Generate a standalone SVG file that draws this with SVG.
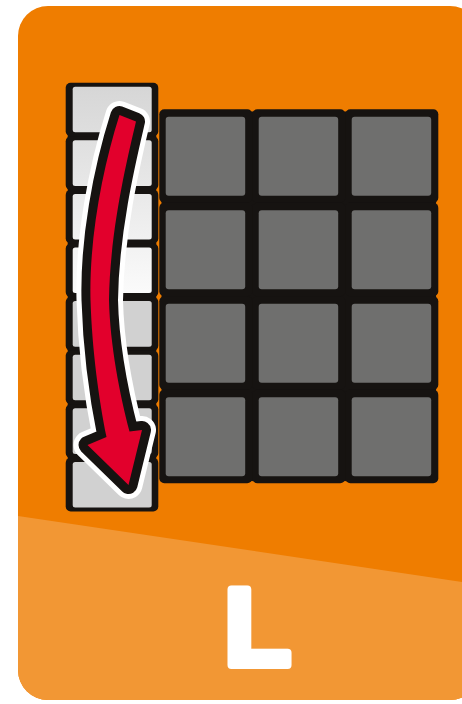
<svg xmlns="http://www.w3.org/2000/svg" xmlns:xlink="http://www.w3.org/1999/xlink" width="462" height="704" viewBox="0 0 462 704">
<style>
.cell{fill:#161311}
.dark{fill:#6f6f6e}
.lite{fill:#d1d1d1}
.grad{fill:url(#g)}
.label{font-family:"Liberation Sans",Arial,sans-serif;font-weight:bold;font-size:109px;fill:#fff;stroke:#fff;stroke-width:8;stroke-linejoin:round}
</style>
<defs>
<clipPath id="card"><rect x="18" y="6" width="462" height="694" rx="30"/></clipPath>
<linearGradient id="g" gradientUnits="userSpaceOnUse" x1="0" y1="86" x2="0" y2="296">
<stop offset="0" stop-color="#d6d6d6"/>
<stop offset="1" stop-color="#fbfbfb"/>
</linearGradient>
<path id="arrowShape" d="M119.5,115 L136,121.5 C127,160 110,230 109,300 C110,345 120,395 129.5,431.5 L142,430 L128.5,485 L87.5,445 L106.5,437 C99,400 92,350 90.5,300 C89,240 102,170 119.5,115 Z"/>
</defs>
<g id="background" clip-path="url(#card)">
<rect x="18" y="6" width="462" height="694" fill="#ef7d00"/>
<polygon points="18,516 480,584.6 480,700 18,700" fill="#f29734"/>
</g>
<g id="grid">
<rect class="cell" x="161.5" y="111.5" width="274.6" height="369.6"/>
<g id="r0c0"><rect class="cell" x="159.3" y="109.3" width="93" height="93.5" rx="5"/><rect class="dark" x="165.7" y="116.7" width="79.5" height="79" rx="3"/></g>
<g id="r0c1"><rect class="cell" x="252.3" y="109.3" width="93" height="93.5" rx="5"/><rect class="dark" x="258.7" y="116.7" width="79.5" height="79" rx="3"/></g>
<g id="r0c2"><rect class="cell" x="345.3" y="109.3" width="93" height="93.5" rx="5"/><rect class="dark" x="351.7" y="116.7" width="79.5" height="79" rx="3"/></g>
<g id="r1c0"><rect class="cell" x="159.3" y="202.8" width="93" height="93.5" rx="5"/><rect class="dark" x="165.7" y="210.2" width="79.5" height="79" rx="3"/></g>
<g id="r1c1"><rect class="cell" x="252.3" y="202.8" width="93" height="93.5" rx="5"/><rect class="dark" x="258.7" y="210.2" width="79.5" height="79" rx="3"/></g>
<g id="r1c2"><rect class="cell" x="345.3" y="202.8" width="93" height="93.5" rx="5"/><rect class="dark" x="351.7" y="210.2" width="79.5" height="79" rx="3"/></g>
<g id="r2c0"><rect class="cell" x="159.3" y="296.3" width="93" height="93.5" rx="5"/><rect class="dark" x="165.7" y="303.7" width="79.5" height="79" rx="3"/></g>
<g id="r2c1"><rect class="cell" x="252.3" y="296.3" width="93" height="93.5" rx="5"/><rect class="dark" x="258.7" y="303.7" width="79.5" height="79" rx="3"/></g>
<g id="r2c2"><rect class="cell" x="345.3" y="296.3" width="93" height="93.5" rx="5"/><rect class="dark" x="351.7" y="303.7" width="79.5" height="79" rx="3"/></g>
<g id="r3c0"><rect class="cell" x="159.3" y="389.8" width="93" height="93.5" rx="5"/><rect class="dark" x="165.7" y="397.2" width="79.5" height="79" rx="3"/></g>
<g id="r3c1"><rect class="cell" x="252.3" y="389.8" width="93" height="93.5" rx="5"/><rect class="dark" x="258.7" y="397.2" width="79.5" height="79" rx="3"/></g>
<g id="r3c2"><rect class="cell" x="345.3" y="389.8" width="93" height="93.5" rx="5"/><rect class="dark" x="351.7" y="397.2" width="79.5" height="79" rx="3"/></g>
</g>
<g id="column">
<rect class="cell" x="67.7" y="84.7" width="88.6" height="424.8"/>
<g id="s0"><rect class="cell" x="65.7" y="82.7" width="92.6" height="53.6" rx="5"/><rect class="grad" x="72.7" y="86.7" width="79" height="45.6" rx="2.5"/></g>
<g id="s1"><rect class="cell" x="65.7" y="136.3" width="92.6" height="53.6" rx="5"/><rect class="grad" x="72.7" y="140.3" width="79" height="45.6" rx="2.5"/></g>
<g id="s2"><rect class="cell" x="65.7" y="189.9" width="92.6" height="53.6" rx="5"/><rect class="grad" x="72.7" y="193.9" width="79" height="45.6" rx="2.5"/></g>
<g id="s3"><rect class="cell" x="65.7" y="243.5" width="92.6" height="53.6" rx="5"/><rect class="grad" x="72.7" y="247.5" width="79" height="45.6" rx="2.5"/></g>
<g id="s4"><rect class="cell" x="65.7" y="297.1" width="92.6" height="53.6" rx="5"/><rect class="lite" x="72.7" y="301.1" width="79" height="45.6" rx="2.5"/></g>
<g id="s5"><rect class="cell" x="65.7" y="350.7" width="92.6" height="53.6" rx="5"/><rect class="lite" x="72.7" y="354.7" width="79" height="45.6" rx="2.5"/></g>
<g id="s6"><rect class="cell" x="65.7" y="404.3" width="92.6" height="53.6" rx="5"/><rect class="lite" x="72.7" y="408.3" width="79" height="45.6" rx="2.5"/></g>
<g id="s7"><rect class="cell" x="65.7" y="457.9" width="92.6" height="53.6" rx="5"/><rect class="lite" x="72.7" y="461.9" width="79" height="45.6" rx="2.5"/></g>
</g>
<g id="connectors">
<g id="arrow">
<use xlink:href="#arrowShape" href="#arrowShape" fill="#fff" stroke="#fff" stroke-width="28" stroke-linejoin="round"/>
<use xlink:href="#arrowShape" href="#arrowShape" fill="#161311" stroke="#161311" stroke-width="18" stroke-linejoin="round"/>
<use xlink:href="#arrowShape" href="#arrowShape" fill="#e2002c"/>
</g>
</g>
<g id="label">
<text class="label" x="224.3" y="665.3">L</text>
</g>
</svg>
